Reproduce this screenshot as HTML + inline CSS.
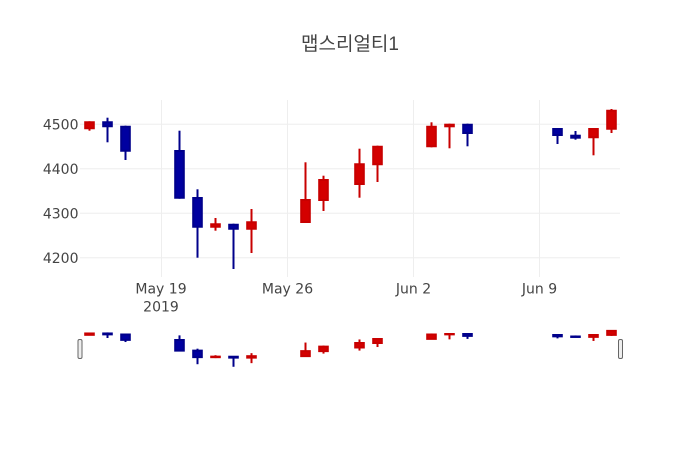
<!DOCTYPE html>
<html>
<head>
<meta charset="utf-8">
<style>
html,body{margin:0;padding:0;background:#fff;}
svg{display:block;}
.tk{font-family:"DejaVu Sans","Liberation Sans",sans-serif;font-size:14px;fill:#444;}
</style>
</head>
<body>
<svg width="700" height="450" viewBox="0 0 700 450" xmlns="http://www.w3.org/2000/svg">
<rect width="700" height="450" fill="#fff"/>
<!-- title -->
<text x="350" y="50" text-anchor="middle" font-family="'Liberation Sans','Noto Sans CJK KR',sans-serif" font-size="19" fill="#444">맵스리얼티1</text>

<!-- gridlines -->
<g stroke="#eee" stroke-width="1">
<line x1="80" x2="620" y1="124.3" y2="124.3"/>
<line x1="80" x2="620" y1="168.8" y2="168.8"/>
<line x1="80" x2="620" y1="213.3" y2="213.3"/>
<line x1="80" x2="620" y1="257.8" y2="257.8"/>
<line x1="161.5" x2="161.5" y1="100" y2="277"/>
<line x1="287.5" x2="287.5" y1="100" y2="277"/>
<line x1="413.5" x2="413.5" y1="100" y2="277"/>
<line x1="539.5" x2="539.5" y1="100" y2="277"/>
</g>

<!-- y tick labels -->
<g class="tk" text-anchor="end">
<text x="78.5" y="129.3">4500</text>
<text x="78.5" y="173.8">4400</text>
<text x="78.5" y="218.3">4300</text>
<text x="78.5" y="262.8">4200</text>
</g>
<!-- x tick labels -->
<g class="tk" text-anchor="middle">
<text x="161" y="293.3">May 19</text>
<text x="161" y="311.5">2019</text>
<text x="287.5" y="293.3">May 26</text>
<text x="413.5" y="293.3">Jun 2</text>
<text x="539.5" y="293.3">Jun 9</text>
</g>

<defs>
<g id="cd">
<!-- increasing (red) -->
<g stroke="#c80000" fill="#d40000" stroke-width="2">
<path vector-effect="non-scaling-stroke" d="M89.5,121.3V130.7"/><rect vector-effect="non-scaling-stroke" x="85.2" y="122.3" width="8.6" height="6"/>
<path vector-effect="non-scaling-stroke" d="M215.5,218V230.7"/><rect vector-effect="non-scaling-stroke" x="211.2" y="224.3" width="8.6" height="2.4"/>
<path vector-effect="non-scaling-stroke" d="M251.5,209V253"/><rect vector-effect="non-scaling-stroke" x="247.2" y="222.3" width="8.6" height="6.4"/>
<path vector-effect="non-scaling-stroke" d="M305.5,162.3V223"/><rect vector-effect="non-scaling-stroke" x="301.2" y="200" width="8.6" height="22"/>
<path vector-effect="non-scaling-stroke" d="M323.5,175.7V211"/><rect vector-effect="non-scaling-stroke" x="319.2" y="180" width="8.6" height="20"/>
<path vector-effect="non-scaling-stroke" d="M359.5,148.7V197.7"/><rect vector-effect="non-scaling-stroke" x="355.2" y="164.3" width="8.6" height="19.7"/>
<path vector-effect="non-scaling-stroke" d="M377.5,145.7V182"/><rect vector-effect="non-scaling-stroke" x="373.2" y="146.7" width="8.6" height="17.6"/>
<path vector-effect="non-scaling-stroke" d="M431.5,122.3V147.3"/><rect vector-effect="non-scaling-stroke" x="427.2" y="126.7" width="8.6" height="19.6"/>
<path vector-effect="non-scaling-stroke" d="M449.5,123.7V148.3"/><rect vector-effect="non-scaling-stroke" x="445.2" y="124.7" width="8.6" height="1.6"/>
<path vector-effect="non-scaling-stroke" d="M593.5,128V155.3"/><rect vector-effect="non-scaling-stroke" x="589.2" y="129" width="8.6" height="8.3"/>
<path vector-effect="non-scaling-stroke" d="M611.5,109V133"/><rect vector-effect="non-scaling-stroke" x="607.2" y="110.7" width="8.6" height="18"/>
</g>
<!-- decreasing (blue) -->
<g stroke="#00008b" fill="#0000a0" stroke-width="2">
<path vector-effect="non-scaling-stroke" d="M107.5,117.7V142.3"/><rect vector-effect="non-scaling-stroke" x="103.2" y="122.3" width="8.6" height="4"/>
<path vector-effect="non-scaling-stroke" d="M125.5,125.7V160"/><rect vector-effect="non-scaling-stroke" x="121.2" y="126.7" width="8.6" height="24"/>
<path vector-effect="non-scaling-stroke" d="M179.5,130.7V198.7"/><rect vector-effect="non-scaling-stroke" x="175.2" y="151" width="8.6" height="46.7"/>
<path vector-effect="non-scaling-stroke" d="M197.5,189.3V257.7"/><rect vector-effect="non-scaling-stroke" x="193.2" y="198" width="8.6" height="28.7"/>
<path vector-effect="non-scaling-stroke" d="M233.5,223.7V269"/><rect vector-effect="non-scaling-stroke" x="229.2" y="224.7" width="8.6" height="4"/>
<path vector-effect="non-scaling-stroke" d="M467.5,123.7V146.3"/><rect vector-effect="non-scaling-stroke" x="463.2" y="124.7" width="8.6" height="8.3"/>
<path vector-effect="non-scaling-stroke" d="M557.5,128V144"/><rect vector-effect="non-scaling-stroke" x="553.2" y="129" width="8.6" height="6"/>
<path vector-effect="non-scaling-stroke" d="M575.5,131V139.7"/><rect vector-effect="non-scaling-stroke" x="571.2" y="135.7" width="8.6" height="2"/>
</g>
</g>
</defs>

<!-- main candles -->
<use href="#cd"/>

<!-- range slider -->
<rect x="80" y="328.4" width="540" height="40.2" fill="#fff"/>
<use href="#cd" transform="translate(0,305.69) scale(1,0.2271)"/>
<rect x="78" y="339.5" width="4" height="19" rx="1.5" fill="#eee" stroke="#666" stroke-width="1"/>
<rect x="618.5" y="339.5" width="4" height="19" rx="1.5" fill="#eee" stroke="#666" stroke-width="1"/>
</svg>
</body>
</html>
